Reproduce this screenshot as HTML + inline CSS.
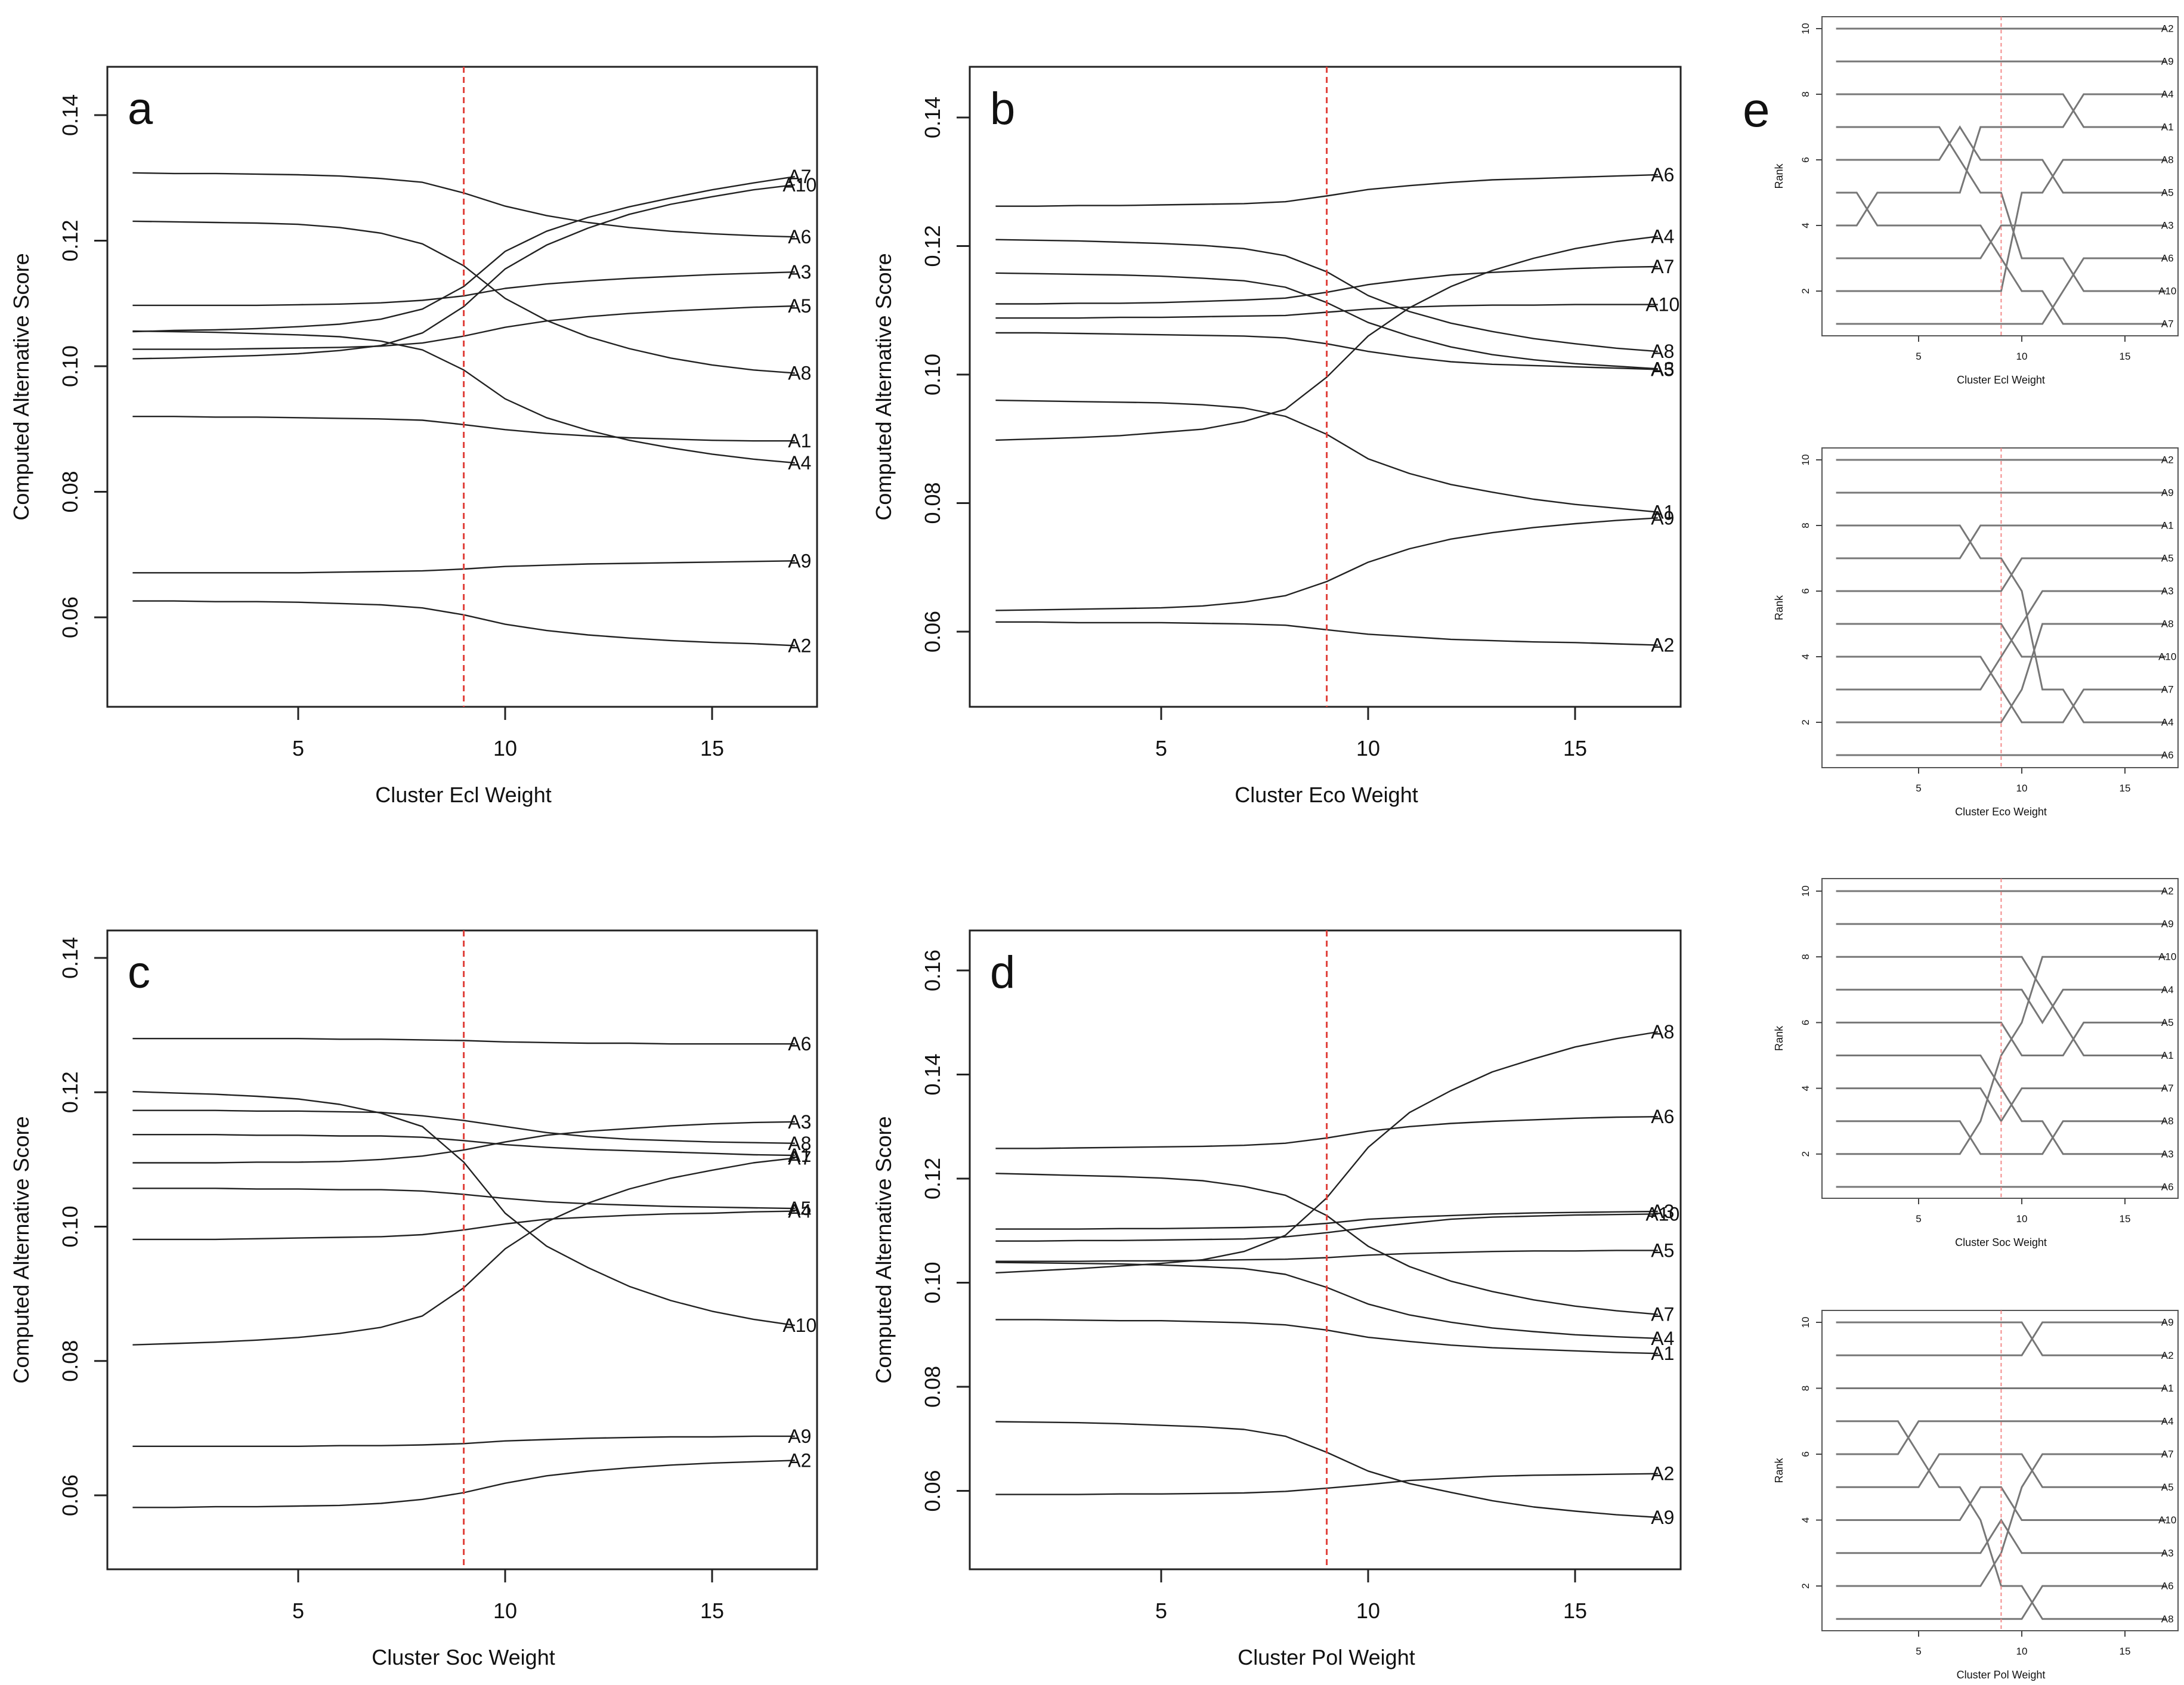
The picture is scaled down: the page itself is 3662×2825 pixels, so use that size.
<!DOCTYPE html>
<html><head><meta charset="utf-8"><title>Sensitivity analysis</title>
<style>
html,body{margin:0;padding:0;background:#fff;}
svg{display:block;}
text{font-family:"Liberation Sans",Arial,sans-serif;fill:#111;}
</style></head>
<body>
<svg id="chart" width="3662" height="2825" viewBox="0 0 3662 2825" xmlns="http://www.w3.org/2000/svg">
<rect x="0" y="0" width="3662" height="2825" fill="#fff"/>
</svg>
<script>
// ---------- data ----------
const weights = [1,2,3,4,5,6,7,8,9,10,11,12,13,14,15,16,17];
const xTicks = [5,10,15];
const scoreTicksABC = [0.06,0.08,0.10,0.12,0.14];
const scoreTicksD = [0.06,0.08,0.10,0.12,0.14,0.16];
const rankTicks = [2,4,6,8,10];
const currentWeight = 9;

// panel a (Ecl)
const ecl_A6 = [0.1308,0.1307,0.1307,0.1306,0.1305,0.1303,0.1299,0.1293,0.1276,0.1255,0.1240,0.1229,0.1221,0.1215,0.1211,0.1208,0.1206];
const ecl_A8 = [0.1231,0.1230,0.1229,0.1228,0.1226,0.1221,0.1212,0.1195,0.1160,0.1108,0.1073,0.1047,0.1028,0.1013,0.1002,0.0994,0.0989];
const ecl_A3 = [0.1097,0.1097,0.1097,0.1097,0.1098,0.1099,0.1101,0.1105,0.1112,0.1124,0.1131,0.1136,0.1140,0.1143,0.1146,0.1148,0.1150];
const ecl_A7 = [0.1055,0.1057,0.1058,0.1060,0.1063,0.1067,0.1075,0.1091,0.1127,0.1183,0.1215,0.1237,0.1254,0.1268,0.1281,0.1292,0.1302];
const ecl_A10 = [0.1012,0.1013,0.1015,0.1017,0.1020,0.1025,0.1033,0.1053,0.1095,0.1155,0.1193,0.1220,0.1242,0.1258,0.1270,0.1281,0.1289];
const ecl_A5 = [0.1027,0.1027,0.1027,0.1028,0.1029,0.1030,0.1032,0.1037,0.1048,0.1062,0.1072,0.1079,0.1084,0.1088,0.1091,0.1094,0.1096];
const ecl_A4 = [0.1056,0.1055,0.1054,0.1052,0.1050,0.1047,0.1040,0.1026,0.0994,0.0948,0.0918,0.0898,0.0882,0.0870,0.0860,0.0852,0.0846];
const ecl_A1 = [0.0920,0.0920,0.0919,0.0919,0.0918,0.0917,0.0916,0.0914,0.0907,0.0899,0.0893,0.0889,0.0886,0.0884,0.0882,0.0881,0.0881];
const ecl_A9 = [0.0671,0.0671,0.0671,0.0671,0.0671,0.0672,0.0673,0.0674,0.0677,0.0681,0.0683,0.0685,0.0686,0.0687,0.0688,0.0689,0.0690];
const ecl_A2 = [0.0626,0.0626,0.0625,0.0625,0.0624,0.0622,0.0620,0.0615,0.0604,0.0589,0.0579,0.0572,0.0567,0.0563,0.0560,0.0558,0.0555];

// panel b (Eco)
const eco_A6 = [0.1262,0.1262,0.1263,0.1263,0.1264,0.1265,0.1266,0.1269,0.1278,0.1288,0.1294,0.1299,0.1303,0.1305,0.1307,0.1309,0.1311];
const eco_A4 = [0.0898,0.0900,0.0902,0.0905,0.0910,0.0915,0.0927,0.0946,0.0996,0.1060,0.1104,0.1137,0.1162,0.1181,0.1196,0.1207,0.1215];
const eco_A7 = [0.1110,0.1110,0.1111,0.1111,0.1112,0.1114,0.1116,0.1119,0.1128,0.1140,0.1148,0.1155,0.1159,0.1162,0.1165,0.1167,0.1168];
const eco_A10 = [0.1088,0.1088,0.1088,0.1089,0.1089,0.1090,0.1091,0.1092,0.1097,0.1102,0.1105,0.1107,0.1108,0.1108,0.1109,0.1109,0.1109];
const eco_A8 = [0.1210,0.1209,0.1208,0.1206,0.1204,0.1201,0.1196,0.1185,0.1160,0.1123,0.1098,0.1080,0.1067,0.1056,0.1048,0.1041,0.1036];
const eco_A3 = [0.1158,0.1157,0.1156,0.1155,0.1153,0.1150,0.1146,0.1136,0.1112,0.1081,0.1060,0.1043,0.1031,0.1023,0.1017,0.1013,0.1009];
const eco_A5 = [0.1065,0.1065,0.1064,0.1063,0.1062,0.1061,0.1060,0.1057,0.1048,0.1036,0.1027,0.1020,0.1016,0.1014,0.1012,0.1010,0.1008];
const eco_A1 = [0.0960,0.0959,0.0958,0.0957,0.0956,0.0953,0.0948,0.0935,0.0907,0.0869,0.0846,0.0829,0.0817,0.0806,0.0798,0.0792,0.0786];
const eco_A9 = [0.0633,0.0634,0.0635,0.0636,0.0637,0.0640,0.0646,0.0656,0.0678,0.0708,0.0729,0.0744,0.0754,0.0762,0.0768,0.0773,0.0777];
const eco_A2 = [0.0615,0.0615,0.0614,0.0614,0.0614,0.0613,0.0612,0.0610,0.0603,0.0596,0.0592,0.0588,0.0586,0.0584,0.0583,0.0581,0.0579];

// panel c (Soc)
const soc_A6 = [0.1280,0.1280,0.1280,0.1280,0.1280,0.1279,0.1279,0.1278,0.1277,0.1275,0.1274,0.1273,0.1273,0.1272,0.1272,0.1272,0.1272];
const soc_A10 = [0.1201,0.1199,0.1197,0.1194,0.1190,0.1182,0.1169,0.1149,0.1096,0.1020,0.0971,0.0939,0.0911,0.0890,0.0874,0.0862,0.0853];
const soc_A8 = [0.1173,0.1173,0.1173,0.1172,0.1172,0.1171,0.1170,0.1165,0.1158,0.1149,0.1140,0.1134,0.1130,0.1128,0.1126,0.1125,0.1124];
const soc_A1 = [0.1137,0.1137,0.1137,0.1136,0.1136,0.1135,0.1135,0.1133,0.1128,0.1122,0.1118,0.1115,0.1113,0.1111,0.1109,0.1107,0.1106];
const soc_A3 = [0.1095,0.1095,0.1095,0.1096,0.1096,0.1097,0.1100,0.1105,0.1114,0.1126,0.1136,0.1142,0.1146,0.1150,0.1153,0.1155,0.1156];
const soc_A7 = [0.0824,0.0826,0.0828,0.0831,0.0835,0.0841,0.0850,0.0867,0.0909,0.0967,0.1007,0.1035,0.1056,0.1072,0.1084,0.1095,0.1102];
const soc_A5 = [0.1057,0.1057,0.1057,0.1056,0.1056,0.1055,0.1055,0.1053,0.1048,0.1042,0.1037,0.1034,0.1032,0.1030,0.1029,0.1028,0.1027];
const soc_A4 = [0.0981,0.0981,0.0981,0.0982,0.0983,0.0984,0.0985,0.0988,0.0995,0.1004,0.1011,0.1014,0.1017,0.1019,0.1020,0.1022,0.1023];
const soc_A9 = [0.0673,0.0673,0.0673,0.0673,0.0673,0.0674,0.0674,0.0675,0.0677,0.0681,0.0683,0.0685,0.0686,0.0687,0.0687,0.0688,0.0688];
const soc_A2 = [0.0582,0.0582,0.0583,0.0583,0.0584,0.0585,0.0588,0.0594,0.0604,0.0618,0.0629,0.0636,0.0641,0.0645,0.0648,0.0650,0.0652];

// panel d (Pol)
const pol_A8 = [0.1019,0.1023,0.1027,0.1032,0.1037,0.1044,0.1060,0.1091,0.1163,0.1260,0.1327,0.1369,0.1405,0.1430,0.1453,0.1469,0.1482];
const pol_A6 = [0.1258,0.1258,0.1259,0.1260,0.1261,0.1262,0.1264,0.1268,0.1278,0.1291,0.1300,0.1306,0.1310,0.1313,0.1316,0.1318,0.1319];
const pol_A7 = [0.1210,0.1208,0.1206,0.1204,0.1201,0.1196,0.1185,0.1168,0.1129,0.1070,0.1031,0.1003,0.0983,0.0967,0.0955,0.0946,0.0939];
const pol_A3 = [0.1103,0.1103,0.1103,0.1104,0.1104,0.1105,0.1106,0.1108,0.1114,0.1122,0.1126,0.1129,0.1132,0.1134,0.1135,0.1136,0.1137];
const pol_A10 = [0.1080,0.1080,0.1081,0.1081,0.1082,0.1083,0.1084,0.1088,0.1096,0.1106,0.1114,0.1122,0.1126,0.1128,0.1130,0.1131,0.1132];
const pol_A5 = [0.1041,0.1041,0.1041,0.1042,0.1042,0.1043,0.1044,0.1045,0.1048,0.1053,0.1056,0.1058,0.1060,0.1061,0.1061,0.1062,0.1062];
const pol_A4 = [0.1039,0.1038,0.1037,0.1036,0.1034,0.1031,0.1027,0.1016,0.0991,0.0959,0.0938,0.0924,0.0913,0.0906,0.0900,0.0896,0.0893];
const pol_A1 = [0.0929,0.0929,0.0928,0.0927,0.0927,0.0925,0.0923,0.0919,0.0909,0.0895,0.0887,0.0880,0.0875,0.0872,0.0869,0.0866,0.0864];
const pol_A9 = [0.0733,0.0732,0.0731,0.0729,0.0726,0.0723,0.0718,0.0705,0.0674,0.0638,0.0614,0.0597,0.0581,0.0569,0.0561,0.0554,0.0549];
const pol_A2 = [0.0593,0.0593,0.0593,0.0594,0.0594,0.0595,0.0596,0.0599,0.0605,0.0612,0.0620,0.0624,0.0628,0.0630,0.0631,0.0632,0.0633];

// panel e ranks (1 = best)
const rEcl_A2 = [10,10,10,10,10,10,10,10,10,10,10,10,10,10,10,10,10];
const rEcl_A9 = [9,9,9,9,9,9,9,9,9,9,9,9,9,9,9,9,9];
const rEcl_A4 = [4,4,5,5,5,5,5,7,7,7,7,7,8,8,8,8,8];
const rEcl_A1 = [8,8,8,8,8,8,8,8,8,8,8,8,7,7,7,7,7];
const rEcl_A8 = [2,2,2,2,2,2,2,2,2,5,5,6,6,6,6,6,6];
const rEcl_A5 = [6,6,6,6,6,6,7,6,6,6,6,5,5,5,5,5,5];
const rEcl_A3 = [3,3,3,3,3,3,3,3,4,4,4,4,4,4,4,4,4];
const rEcl_A6 = [1,1,1,1,1,1,1,1,1,1,1,2,3,3,3,3,3];
const rEcl_A10 = [7,7,7,7,7,7,6,5,5,3,3,3,2,2,2,2,2];
const rEcl_A7 = [5,5,4,4,4,4,4,4,3,2,2,1,1,1,1,1,1];

const rEco_A2 = [10,10,10,10,10,10,10,10,10,10,10,10,10,10,10,10,10];
const rEco_A9 = [9,9,9,9,9,9,9,9,9,9,9,9,9,9,9,9,9];
const rEco_A1 = [7,7,7,7,7,7,7,8,8,8,8,8,8,8,8,8,8];
const rEco_A5 = [6,6,6,6,6,6,6,6,6,7,7,7,7,7,7,7,7];
const rEco_A3 = [3,3,3,3,3,3,3,3,4,5,6,6,6,6,6,6,6];
const rEco_A8 = [2,2,2,2,2,2,2,2,2,3,5,5,5,5,5,5,5];
const rEco_A10 = [5,5,5,5,5,5,5,5,5,4,4,4,4,4,4,4,4];
const rEco_A7 = [4,4,4,4,4,4,4,4,3,2,2,2,3,3,3,3,3];
const rEco_A4 = [8,8,8,8,8,8,8,7,7,6,3,3,2,2,2,2,2];
const rEco_A6 = [1,1,1,1,1,1,1,1,1,1,1,1,1,1,1,1,1];

const rSoc_A2 = [10,10,10,10,10,10,10,10,10,10,10,10,10,10,10,10,10];
const rSoc_A9 = [9,9,9,9,9,9,9,9,9,9,9,9,9,9,9,9,9];
const rSoc_A10 = [2,2,2,2,2,2,2,3,5,6,8,8,8,8,8,8,8];
const rSoc_A4 = [7,7,7,7,7,7,7,7,7,7,6,7,7,7,7,7,7];
const rSoc_A5 = [6,6,6,6,6,6,6,6,6,5,5,5,6,6,6,6,6];
const rSoc_A1 = [8,8,8,8,8,8,8,8,8,8,7,6,5,5,5,5,5];
const rSoc_A7 = [4,4,4,4,4,4,4,4,3,4,4,4,4,4,4,4,4];
const rSoc_A8 = [3,3,3,3,3,3,3,2,2,2,2,3,3,3,3,3,3];
const rSoc_A3 = [5,5,5,5,5,5,5,5,4,3,3,2,2,2,2,2,2];
const rSoc_A6 = [1,1,1,1,1,1,1,1,1,1,1,1,1,1,1,1,1];

const rPol_A9 = [9,9,9,9,9,9,9,9,9,9,10,10,10,10,10,10,10];
const rPol_A2 = [10,10,10,10,10,10,10,10,10,10,9,9,9,9,9,9,9];
const rPol_A1 = [8,8,8,8,8,8,8,8,8,8,8,8,8,8,8,8,8];
const rPol_A4 = [6,6,6,6,7,7,7,7,7,7,7,7,7,7,7,7,7];
const rPol_A7 = [2,2,2,2,2,2,2,2,3,5,6,6,6,6,6,6,6];
const rPol_A5 = [5,5,5,5,5,6,6,6,6,6,5,5,5,5,5,5,5];
const rPol_A10 = [4,4,4,4,4,4,4,5,5,4,4,4,4,4,4,4,4];
const rPol_A3 = [3,3,3,3,3,3,3,3,4,3,3,3,3,3,3,3,3];
const rPol_A6 = [1,1,1,1,1,1,1,1,1,1,2,2,2,2,2,2,2];
const rPol_A8 = [7,7,7,7,6,5,5,4,2,2,1,1,1,1,1,1,1];

// ---------- drawing ----------
const NS = "http://www.w3.org/2000/svg";
const svg = document.getElementById("chart");
function mk(tag, attrs, parent, txt){
  const el = document.createElementNS(NS, tag);
  for (const k in attrs) el.setAttribute(k, attrs[k]);
  if (txt !== undefined) el.textContent = txt;
  (parent || svg).appendChild(el);
  return el;
}

function drawScorePanel(cfg){
  const g = mk("g", {});
  
  
  const xS = v => cfg.x5 + (v - 5) * cfg.xUnit;
  const yS = v => cfg.yRefPx + (cfg.yRefVal - v) * cfg.yPerUnit;
  const box = mk("rect", {x:cfg.left, y:cfg.top, width:cfg.right-cfg.left, height:cfg.bottom-cfg.top, fill:"none", stroke:"#222", "stroke-width":3}, g);
  
  
  xTicks.forEach(t => {
    const tk = mk("line", {x1:xS(t), x2:xS(t), y1:cfg.bottom, y2:cfg.bottom+22, stroke:"#222", "stroke-width":3}, g);
    
    
    const tl = mk("text", {x:xS(t), y:cfg.bottom+82, "text-anchor":"middle", "font-size":36}, g, String(t));
    
    
  });
  cfg.yTicks.forEach(t => {
    const yy = yS(t);
    const tk = mk("line", {x1:cfg.left-22, x2:cfg.left, y1:yy, y2:yy, stroke:"#222", "stroke-width":3}, g);
    
    
    const tl = mk("text", {x:cfg.left-50, y:yy, "text-anchor":"middle", "font-size":36, transform:`rotate(-90 ${cfg.left-50} ${yy})`}, g, t.toFixed(2));
    
    
  });
  const xt = mk("text", {x:(cfg.left+cfg.right)/2 + 2, y:cfg.bottom+160, "text-anchor":"middle", "font-size":36}, g, cfg.xTitle);
  
  
  const cy = (cfg.top+cfg.bottom)/2;
  const yt = mk("text", {x:cfg.left-132, y:cy, "text-anchor":"middle", "font-size":36, transform:`rotate(-90 ${cfg.left-132} ${cy})`}, g, "Computed Alternative Score");
  
  
  const lt = mk("text", {x:cfg.left+34, y:cfg.top+96, "font-size":76}, g, cfg.letter);
  
  
  cfg.series.forEach(([name, vals]) => {
    const pts = vals.map((v,i) => xS(weights[i]).toFixed(1) + "," + yS(v).toFixed(1)).join(" ");
    const pl = mk("polyline", {points:pts, fill:"none", stroke:"#222", "stroke-width":2.4, "stroke-linejoin":"round"}, g);
    
    
    const last = vals[vals.length-1];
    const lb = mk("text", {x:xS(weights[weights.length-1])+8, y:yS(last), "text-anchor":"middle", "dominant-baseline":"central", "font-size":32}, g, name);
    
    
  });
  const rl = mk("line", {x1:xS(currentWeight), x2:xS(currentWeight), y1:cfg.top, y2:cfg.bottom, stroke:"#e0403a", "stroke-width":3, "stroke-dasharray":"10 7"}, g);
  
  
}

function drawRankPanel(cfg){
  const g = mk("g", {});
  
  
  const xS = v => 3217 + (v - 5) * 34.6;
  const yS = r => cfg.r10 + (10 - r) * cfg.perRank;
  const left = 3055, right = 3652;
  const box = mk("rect", {x:left, y:cfg.top, width:right-left, height:cfg.bottom-cfg.top, fill:"none", stroke:"#555", "stroke-width":2}, g);
  
  
  xTicks.forEach(t => {
    const tk = mk("line", {x1:xS(t), x2:xS(t), y1:cfg.bottom, y2:cfg.bottom+10, stroke:"#444", "stroke-width":2}, g);
    
    
    const tl = mk("text", {x:xS(t), y:cfg.bottom+40, "text-anchor":"middle", "font-size":17, fill:"#333"}, g, String(t));
    
    
  });
  rankTicks.forEach(t => {
    const yy = yS(t);
    const tk = mk("line", {x1:left-10, x2:left, y1:yy, y2:yy, stroke:"#444", "stroke-width":2}, g);
    
    
    const tl = mk("text", {x:left-22, y:yy, "text-anchor":"middle", "font-size":17, transform:`rotate(-90 ${left-22} ${yy})`}, g, String(t));
    
    
  });
  const cy = (cfg.top+cfg.bottom)/2;
  const yt = mk("text", {x:2989, y:cy, "text-anchor":"middle", "font-size":18, transform:`rotate(-90 2989 ${cy})`}, g, "Rank");
  
  
  const xt = mk("text", {x:3355, y:cfg.bottom+80, "text-anchor":"middle", "font-size":18}, g, cfg.xTitle);
  
  
  cfg.series.forEach(([name, vals]) => {
    const pts = vals.map((r,i) => xS(weights[i]).toFixed(1) + "," + yS(r).toFixed(1)).join(" ");
    const pl = mk("polyline", {points:pts, fill:"none", stroke:"#777", "stroke-width":3}, g);
    
    
    const lb = mk("text", {x:xS(17)+2, y:yS(vals[vals.length-1]), "text-anchor":"middle", "dominant-baseline":"central", "font-size":17, fill:"#333"}, g, name);
    
    
  });
  const rl = mk("line", {x1:xS(currentWeight), x2:xS(currentWeight), y1:cfg.top, y2:cfg.bottom, stroke:"#f28a8a", "stroke-width":2, "stroke-dasharray":"6 5"}, g);
  
  
}

drawScorePanel({letter:"a", left:180, right:1370, top:112, bottom:1185, x5:500, xUnit:69.4,
  yRefVal:0.14, yRefPx:193, yPerUnit:(1035-193)/0.08, yTicks:scoreTicksABC, xTitle:"Cluster Ecl Weight",
  series:[["A7",ecl_A7],["A10",ecl_A10],["A6",ecl_A6],["A3",ecl_A3],["A5",ecl_A5],["A8",ecl_A8],["A1",ecl_A1],["A4",ecl_A4],["A9",ecl_A9],["A2",ecl_A2]]});
drawScorePanel({letter:"b", left:1626, right:2818, top:112, bottom:1185, x5:1947, xUnit:69.4,
  yRefVal:0.14, yRefPx:197, yPerUnit:(1059-197)/0.08, yTicks:scoreTicksABC, xTitle:"Cluster Eco Weight",
  series:[["A6",eco_A6],["A4",eco_A4],["A7",eco_A7],["A10",eco_A10],["A8",eco_A8],["A3",eco_A3],["A5",eco_A5],["A1",eco_A1],["A9",eco_A9],["A2",eco_A2]]});
drawScorePanel({letter:"c", left:180, right:1370, top:1560, bottom:2631, x5:500, xUnit:69.4,
  yRefVal:0.14, yRefPx:1606, yPerUnit:(2507-1606)/0.08, yTicks:scoreTicksABC, xTitle:"Cluster Soc Weight",
  series:[["A6",soc_A6],["A3",soc_A3],["A8",soc_A8],["A7",soc_A7],["A1",soc_A1],["A5",soc_A5],["A4",soc_A4],["A10",soc_A10],["A9",soc_A9],["A2",soc_A2]]});
drawScorePanel({letter:"d", left:1626, right:2818, top:1560, bottom:2631, x5:1947, xUnit:69.4,
  yRefVal:0.16, yRefPx:1627, yPerUnit:(2499.5-1627)/0.10, yTicks:scoreTicksD, xTitle:"Cluster Pol Weight",
  series:[["A8",pol_A8],["A6",pol_A6],["A3",pol_A3],["A10",pol_A10],["A5",pol_A5],["A7",pol_A7],["A4",pol_A4],["A1",pol_A1],["A2",pol_A2],["A9",pol_A9]]});

drawRankPanel({key:"ecl", top:28, bottom:563, r10:48, perRank:55, xTitle:"Cluster Ecl Weight",
  series:[["A2",rEcl_A2],["A9",rEcl_A9],["A4",rEcl_A4],["A1",rEcl_A1],["A8",rEcl_A8],["A5",rEcl_A5],["A3",rEcl_A3],["A6",rEcl_A6],["A10",rEcl_A10],["A7",rEcl_A7]]});
drawRankPanel({key:"eco", top:751, bottom:1287, r10:771, perRank:55, xTitle:"Cluster Eco Weight",
  series:[["A2",rEco_A2],["A9",rEco_A9],["A1",rEco_A1],["A5",rEco_A5],["A3",rEco_A3],["A8",rEco_A8],["A10",rEco_A10],["A7",rEco_A7],["A4",rEco_A4],["A6",rEco_A6]]});
drawRankPanel({key:"soc", top:1473, bottom:2009, r10:1494, perRank:55.1, xTitle:"Cluster Soc Weight",
  series:[["A2",rSoc_A2],["A9",rSoc_A9],["A10",rSoc_A10],["A4",rSoc_A4],["A5",rSoc_A5],["A1",rSoc_A1],["A7",rSoc_A7],["A8",rSoc_A8],["A3",rSoc_A3],["A6",rSoc_A6]]});
drawRankPanel({key:"pol", top:2197, bottom:2734, r10:2217, perRank:55.25, xTitle:"Cluster Pol Weight",
  series:[["A9",rPol_A9],["A2",rPol_A2],["A1",rPol_A1],["A4",rPol_A4],["A7",rPol_A7],["A5",rPol_A5],["A10",rPol_A10],["A3",rPol_A3],["A6",rPol_A6],["A8",rPol_A8]]});

const eLetter = mk("text", {x:2922, y:212, "font-size":82}, svg, "e");


</script>
</body></html>
